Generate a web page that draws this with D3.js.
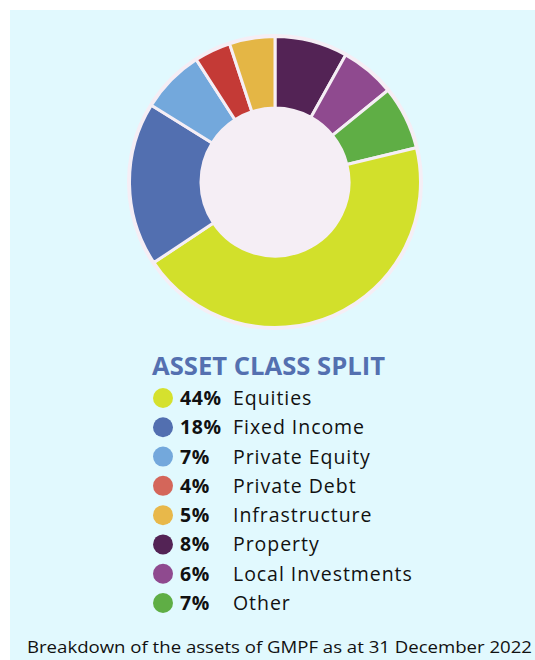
<!DOCTYPE html>
<html>
<head>
<meta charset="utf-8">
<script src="https://cdn.jsdelivr.net/npm/d3@7"></script>
<style>
  html, body { margin: 0; padding: 0; background: #ffffff; }
  svg { display: block; }
</style>
</head>
<body>
<svg id="chart" width="535" height="660"></svg>
<script>
// asset classes in pie order (clockwise from 12 o'clock)
var pieCategories = ["Property", "Local Investments", "Other", "Equities", "Fixed Income", "Private Equity", "Private Debt", "Infrastructure"];
var pieValues = [8, 6, 7, 44, 18, 7, 4, 5];
var pieColors = ["#532355", "#8f4a8f", "#5fae45", "#d2e02b", "#526fb0", "#73a8dc", "#c43a36", "#e4b645"];

// legend order
var legendCategories = ["Equities", "Fixed Income", "Private Equity", "Private Debt", "Infrastructure", "Property", "Local Investments", "Other"];
var legendLabels = ["44%", "18%", "7%", "4%", "5%", "8%", "6%", "7%"];
var legendColors = ["#d5e12e", "#526fb0", "#73a8dc", "#d4665a", "#e8b84a", "#532355", "#8f4a8f", "#5fae45"];

var titleText = "ASSET CLASS SPLIT";
var footerText = "Breakdown of the assets of GMPF as at 31 December 2022";

var svg = d3.select("#chart");
var font = "'Open Sans', 'Noto Sans', sans-serif";

// panel background
svg.append("rect")
    .attr("x", 10).attr("y", 10)
    .attr("width", 525).attr("height", 650)
    .attr("fill", "#e1f9fe");

// donut
var cx = 275, cy = 182, outerR = 145.5, innerR = 74;
var ring = "#f5eef5";
var g = svg.append("g").attr("transform", "translate(" + cx + "," + cy + ")");

g.append("circle").attr("r", outerR + 2.5).attr("fill", ring);

var pie = d3.pie().sort(null).value(function (d) { return d; });
var arc = d3.arc().innerRadius(innerR).outerRadius(outerR);

g.selectAll("path.slice")
    .data(pie(pieValues))
    .enter().append("path")
    .attr("class", "slice")
    .attr("d", arc)
    .attr("fill", function (d, i) { return pieColors[i]; })
    .attr("stroke", ring)
    .attr("stroke-width", 3)
    .attr("stroke-linejoin", "round");

g.append("circle").attr("r", innerR).attr("fill", ring);

// title
svg.append("text")
    .attr("x", 152).attr("y", 375)
    .attr("font-family", font)
    .attr("font-weight", 700)
    .attr("font-size", 25)
    .attr("fill", "#5470b0")
    .attr("textLength", 233)
    .attr("lengthAdjust", "spacingAndGlyphs")
    .text(titleText);

// legend
var rowY = d3.scalePoint().domain(legendCategories).range([398, 603]);

var rows = svg.selectAll("g.row")
    .data(legendCategories)
    .enter().append("g")
    .attr("class", "row")
    .attr("transform", function (d) { return "translate(0," + rowY(d) + ")"; });

rows.append("circle")
    .attr("cx", 163).attr("r", 10)
    .attr("fill", function (d, i) { return legendColors[i]; });

rows.append("text")
    .attr("x", 180).attr("dy", "0.36em")
    .attr("font-family", font)
    .attr("font-weight", 700)
    .attr("font-size", 19.5)
    .attr("letter-spacing", 0.6)
    .attr("fill", "#111")
    .text(function (d, i) { return legendLabels[i]; });

rows.append("text")
    .attr("x", 233).attr("dy", "0.36em")
    .attr("font-family", font)
    .attr("font-size", 19.5)
    .attr("letter-spacing", 0.95)
    .attr("fill", "#111")
    .text(function (d) { return d; });

// footer
svg.append("text")
    .attr("x", 27).attr("y", 653)
    .attr("font-family", font)
    .attr("font-size", 16)
    .attr("fill", "#111")
    .attr("textLength", 505)
    .attr("lengthAdjust", "spacingAndGlyphs")
    .text(footerText);
</script>
</body>
</html>
